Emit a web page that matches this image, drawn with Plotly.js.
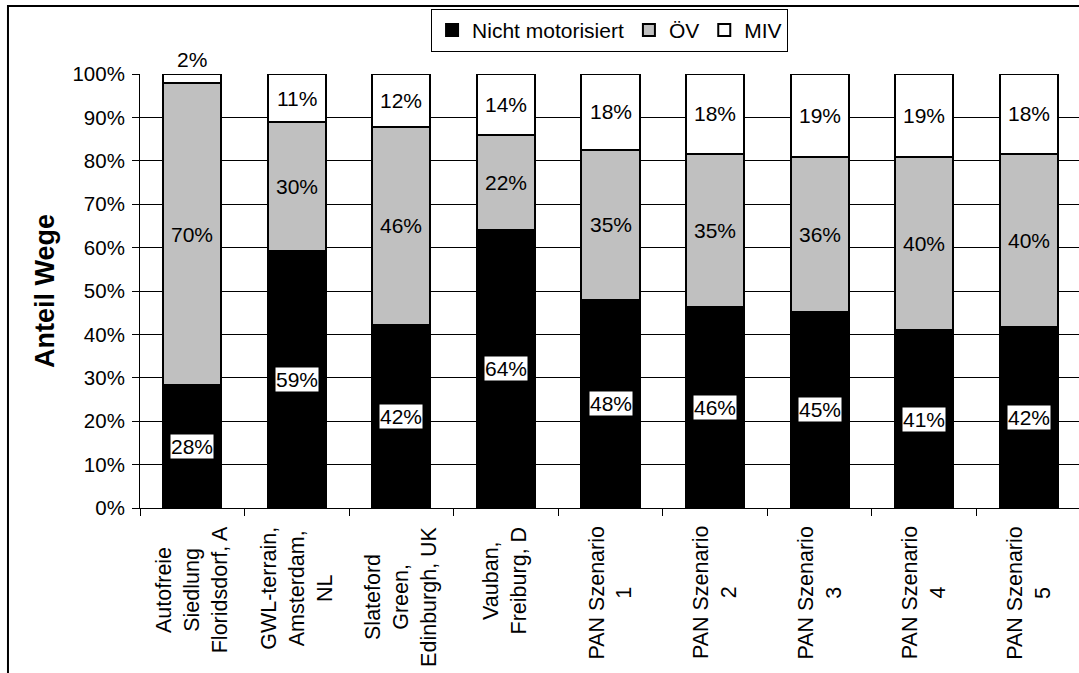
<!DOCTYPE html>
<html>
<head>
<meta charset="utf-8">
<script src="https://cdn.plot.ly/plotly-3.0.1.min.js"></script>
<style>
html,body{margin:0;padding:0;background:#fff;overflow:hidden;}
#chart{width:1090px;height:673px;}
</style>
</head>
<body>
<div id="chart"></div>
<script>
// Categories (line breaks as in the original axis labels)
const categories = [
  "Autofreie<br>Siedlung<br>Floridsdorf, A",
  "GWL-terrain,<br>Amsterdam,<br>NL",
  "Slateford<br>Green,<br>Edinburgh, UK",
  "Vauban,<br>Freiburg, D",
  "PAN Szenario<br>1",
  "PAN Szenario<br>2",
  "PAN Szenario<br>3",
  "PAN Szenario<br>4",
  "PAN Szenario<br>5"
];
// Shares of trips (%)
const nichtMotorisiert = [28.3, 59.2, 42.2, 64.1, 48.0, 46.4, 45.2, 40.9, 41.8];
const oev              = [69.6, 29.7, 45.6, 21.8, 34.5, 35.2, 35.7, 40.0, 39.8];
const miv              = [ 2.1, 11.1, 12.2, 14.1, 17.5, 18.4, 19.1, 19.1, 18.4];
const seriesNames = ["Nicht motorisiert", "ÖV", "MIV"];
const yTickVals = [0,10,20,30,40,50,60,70,80,90,100];
const yTickText = ["0%","10%","20%","30%","40%","50%","60%","70%","80%","90%","100%"];

const FONT = "Arial, 'Liberation Sans', sans-serif";
const colors = ["#000000", "#c0c0c0", "#ffffff"];
const series = [nichtMotorisiert, oev, miv];

const traces = series.map((vals, i) => ({
  type: "bar",
  name: seriesNames[i],
  x: categories,
  y: vals,
  marker: {color: colors[i], line: {color: "#000", width: 2}},
  hoverinfo: "none"
}));

const annotations = [];
categories.forEach((c, j) => {
  let base = 0;
  series.forEach((vals, i) => {
    const v = vals[j];
    const label = Math.round(v) + "%";
    const small = v < 5;
    annotations.push({
      x: c, y: small ? base + v : base + v / 2,
      xref: "x", yref: "y",
      text: label, showarrow: false,
      yanchor: small ? "bottom" : "middle",
      yshift: small ? 2 : 0,
      font: {family: FONT, size: 21, color: "#000"},
      bgcolor: i === 0 ? "#ffffff" : "rgba(0,0,0,0)",
      borderpad: 0
    });
    base += v;
  });
  annotations.push({
    x: c, y: -0.038, xref: "x", yref: "paper",
    text: c, showarrow: false, textangle: -90,
    xanchor: "center", yanchor: "top", align: "center",
    font: {family: FONT, size: 21.5, color: "#000"}
  });
});

const layout = {
  width: 1090, height: 673,
  margin: {l: 140, r: 9, t: 74, b: 165},
  paper_bgcolor: "#fff", plot_bgcolor: "#fff",
  barmode: "stack",
  bargap: 0.445,
  font: {family: FONT, size: 20, color: "#000"},
  showlegend: true,
  legend: {
    orientation: "h", x: 0.499, xanchor: "center", y: 1.15, yanchor: "top",
    bordercolor: "#000", borderwidth: 1, bgcolor: "#fff",
    font: {family: FONT, size: 21, color: "#000"},
    itemwidth: 30, tracegroupgap: 0,
    traceorder: "normal", itemclick: false, itemdoubleclick: false
  },
  xaxis: {
    type: "category",
    showticklabels: false,
    ticks: "outside", tickson: "boundaries", ticklen: 7, tickcolor: "#000", tickwidth: 1,
    showline: true, linecolor: "#000", linewidth: 1,
    showgrid: false, zeroline: false, fixedrange: true
  },
  yaxis: {
    range: [0, 100],
    tickvals: yTickVals, ticktext: yTickText,
    ticks: "outside", ticklen: 7, tickcolor: "#000", tickwidth: 1,
    ticklabelstandoff: 3,
    tickfont: {family: FONT, size: 20.5, color: "#000"},
    showline: true, linecolor: "#000", linewidth: 1,
    showgrid: true, gridcolor: "#000", gridwidth: 1,
    zeroline: false, fixedrange: true,
    title: {text: "Anteil Wege", standoff: 10, font: {family: FONT, size: 27, color: "#000", weight: "bold"}}
  },
  annotations: annotations,
  shapes: [{
    type: "rect", xref: "paper", yref: "paper",
    x0: -0.1403, x1: 1.05, y0: -0.6, y1: 1.1567,
    line: {color: "#000", width: 2}, fillcolor: "rgba(0,0,0,0)", layer: "above"
  }]
};

Plotly.newPlot("chart", traces, layout, {displayModeBar: false, staticPlot: true});
</script>
</body>
</html>
